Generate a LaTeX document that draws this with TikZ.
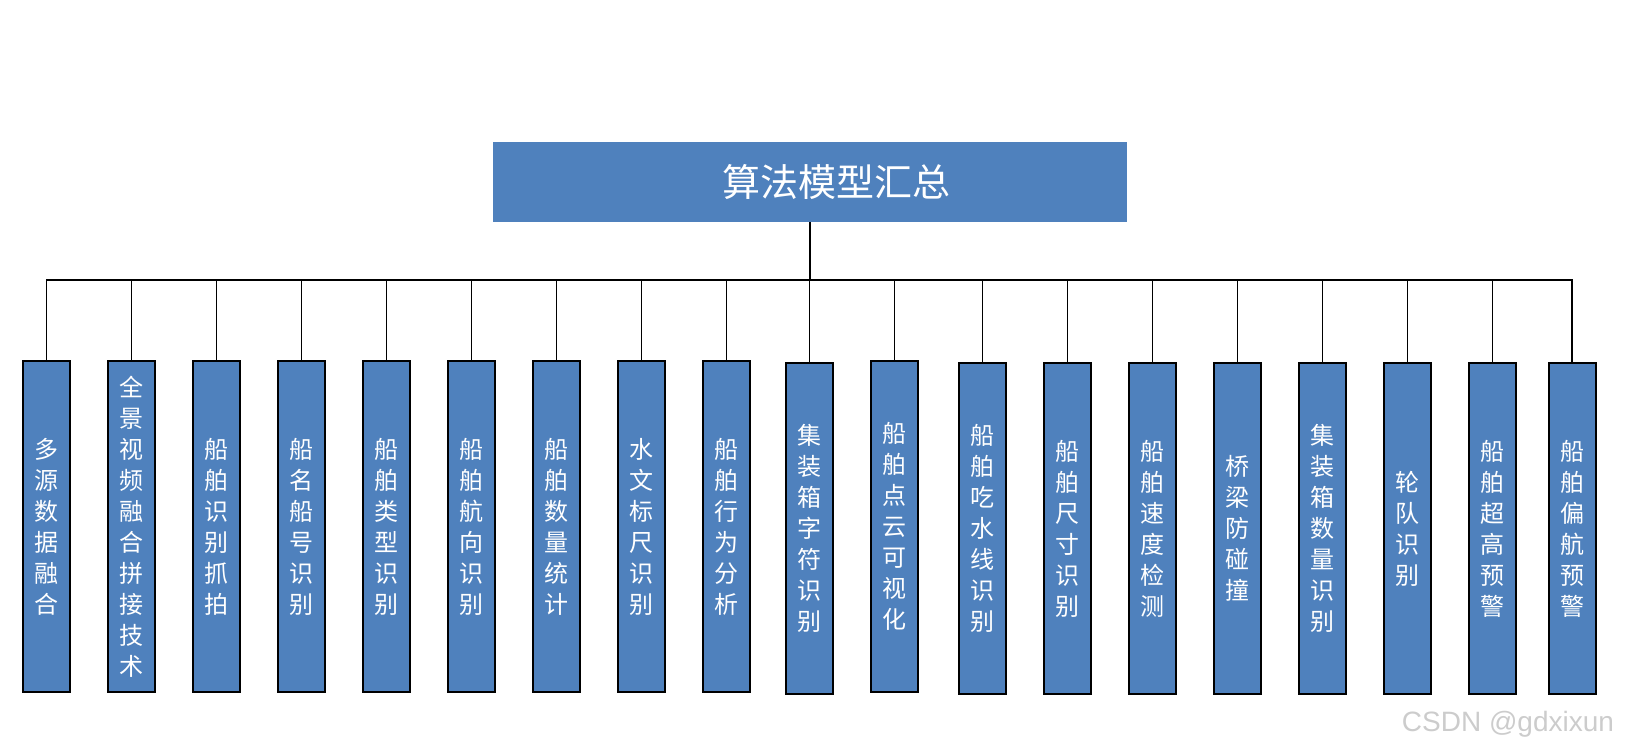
\documentclass[tikz,border=0pt]{standalone}
\usepackage{fontspec}
\usepackage{tikz}
\newfontfamily\cjk{Noto Sans CJK SC}
\setsansfont{Liberation Sans}
\definecolor{boxblue}{RGB}{79,129,189}
\tikzset{
  head/.style={fill=boxblue,minimum width=634pt,minimum height=80pt,inner sep=0pt,
    text=white,font=\cjk\fontsize{38}{42}\selectfont},
  leaf/.style={draw=black,line width=1.6pt,fill=boxblue,minimum width=47pt,minimum height=331pt,
    inner sep=0pt,text=white,align=center,font=\cjk\fontsize{24}{31}\selectfont},
  elbow/.style={to path={-| (\tikztotarget)}}
}

\begin{document}
\begin{tikzpicture}[x=1pt,y=-1pt]
    \useasboundingbox (0,0) rectangle (1625,753);
    \node[head] (0) at (810,182) {\hspace*{52pt}算法模型汇总};
    \coordinate (bus) at (810,280);

    \node[leaf] (1) at (46.6,526.5) {多\\源\\数\\据\\融\\合};
    \node[leaf] (2) at (131.6,526.5) {全\\景\\视\\频\\融\\合\\拼\\接\\技\\术};
    \node[leaf] (3) at (216.6,526.5) {船\\舶\\识\\别\\抓\\拍};
    \node[leaf] (4) at (301.6,526.5) {船\\名\\船\\号\\识\\别};
    \node[leaf] (5) at (386.6,526.5) {船\\舶\\类\\型\\识\\别};
    \node[leaf] (6) at (471.6,526.5) {船\\舶\\航\\向\\识\\别};
    \node[leaf] (7) at (556.5,526.5) {船\\舶\\数\\量\\统\\计};
    \node[leaf] (8) at (641.5,526.5) {水\\文\\标\\尺\\识\\别};
    \node[leaf] (9) at (726.5,526.5) {船\\舶\\行\\为\\分\\析};
    \node[leaf] (10) at (809.4,528.5) {集\\装\\箱\\字\\符\\识\\别};
    \node[leaf] (11) at (894.4,526.5) {船\\舶\\点\\云\\可\\视\\化};
    \node[leaf] (12) at (982.5,528.5) {船\\舶\\吃\\水\\线\\识\\别};
    \node[leaf] (13) at (1067.5,528.5) {船\\舶\\尺\\寸\\识\\别};
    \node[leaf] (14) at (1152.5,528.5) {船\\舶\\速\\度\\检\\测};
    \node[leaf] (15) at (1237.5,528.5) {桥\\梁\\防\\碰\\撞};
    \node[leaf] (16) at (1322.5,528.5) {集\\装\\箱\\数\\量\\识\\别};
    \node[leaf] (17) at (1407.4,528.5) {轮\\队\\识\\别};
    \node[leaf] (18) at (1492.4,528.5) {船\\舶\\超\\高\\预\\警};
    \node[leaf] (19) at (1572.2,528.5) {船\\舶\\偏\\航\\预\\警};

    \node[text=black!20,font=\sffamily\fontsize{28}{30}\selectfont] (mark) at (1508,724) {CSDN @gdxixun};

    \path[draw=black,line width=1.6pt]
    (0) edge (bus)
    (bus) edge[elbow] (1.north)
    (bus) edge[elbow] (2.north)
    (bus) edge[elbow] (3.north)
    (bus) edge[elbow] (4.north)
    (bus) edge[elbow] (5.north)
    (bus) edge[elbow] (6.north)
    (bus) edge[elbow] (7.north)
    (bus) edge[elbow] (8.north)
    (bus) edge[elbow] (9.north)
    (bus) edge[elbow] (10.north)
    (bus) edge[elbow] (11.north)
    (bus) edge[elbow] (12.north)
    (bus) edge[elbow] (13.north)
    (bus) edge[elbow] (14.north)
    (bus) edge[elbow] (15.north)
    (bus) edge[elbow] (16.north)
    (bus) edge[elbow] (17.north)
    (bus) edge[elbow] (18.north)
    (bus) edge[elbow] (19.north);
  \end{tikzpicture}
\end{document}
